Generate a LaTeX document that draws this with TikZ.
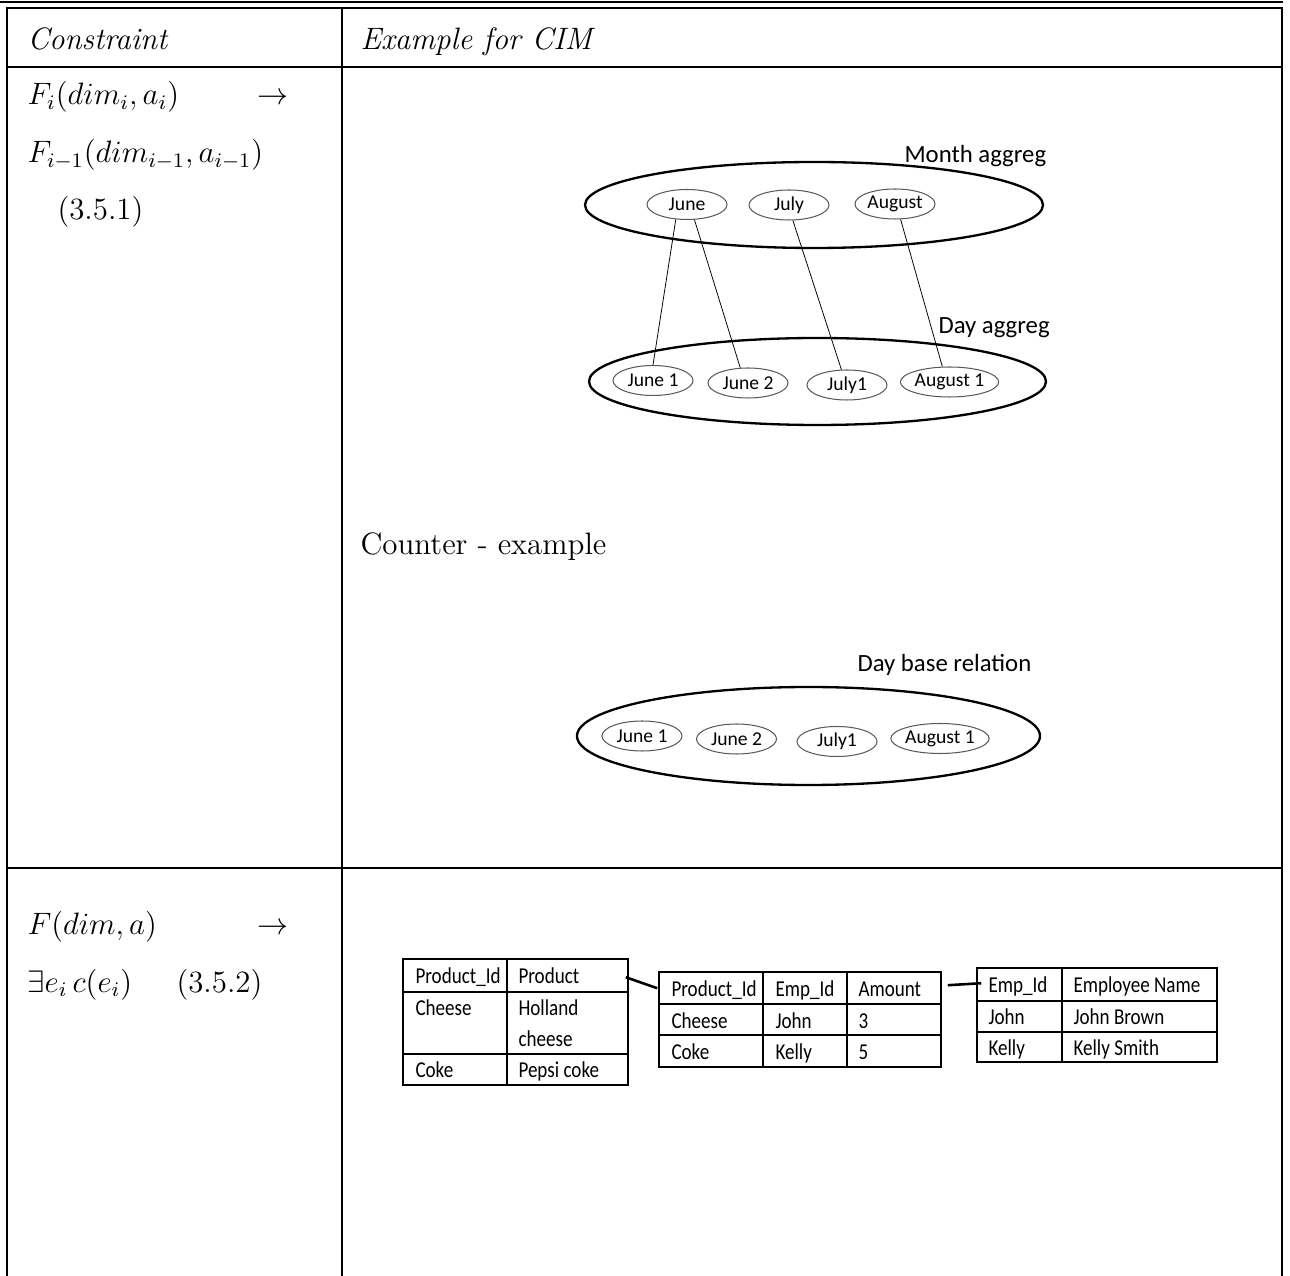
\documentclass[tikz,border=0pt]{standalone}
\usepackage{fontspec}
\newfontfamily\calib{Carlito}
\newfontfamily\calibnarrow[FakeStretch=0.84]{Carlito}
\usetikzlibrary{shapes.geometric,calc}
\newcommand\pxu{0.3876pt}

\begin{document}
\begin{tikzpicture}[x=0.3876pt,y=-0.3876pt,
  rule/.style={line width=0.5pt},
  bigell/.style={ellipse, draw, line width=0.9pt, inner sep=0},
  smallell/.style={ellipse, draw=black!65, line width=0.4pt, inner sep=0,
    minimum width=80*\pxu, minimum height=30*\pxu,
    font=\calib\fontsize{7.6}{8}\selectfont},
  link/.style={line width=0.3pt},
  lbl/.style={anchor=base west, inner sep=0, font=\calib\fontsize{9.6}{11}\selectfont},
  cell/.style={anchor=base west, inner sep=0, font=\calibnarrow\fontsize{8.8}{10}\selectfont},
  tbl/.style={draw, line width=0.6pt, inner sep=0},
  conn/.style={line width=1pt},
  maintext/.style={anchor=base west, inner sep=0, font=\fontsize{12}{14.4}\selectfont}]

\useasboundingbox (0,0) rectangle (1290,1276);

% outer table rules
\draw[line width=0.8pt] (0,2) -- (1283,2);
\draw[rule] (7,1276) -- (7,8) -- (1282,8) -- (1282,1276);
\draw[rule] (342,8) -- (342,1276);
\draw[rule] (7,67) -- (1282,67);
\draw[rule] (7,868) -- (1282,868);

% header
\node[maintext] (hcon) at (27,50) {\itshape Constraint};
\node[maintext] (hex) at (360,50) {\itshape Example for CIM};

% constraint 3.5.1
\node[maintext] (c1a) at (27,105) {$F_i(dim_i, a_i)$};
\node[maintext] (c1arr) at (257,105) {$\rightarrow$};
\node[maintext] (c1b) at (27,163) {$F_{i-1}(dim_{i-1}, a_{i-1})$};
\node[maintext] (c1n) at (57,220) {(3.5.1)};

% constraint 3.5.2
\node[maintext] (c2a) at (27,934) {$F(dim, a)$};
\node[maintext] (c2arr) at (257,934) {$\rightarrow$};
\node[maintext] (c2b) at (27,992) {$\exists e_i\, c(e_i)$};
\node[maintext] (c2n) at (176,992) {(3.5.2)};

% month / day aggregation
\node[bigell, minimum width=458*\pxu, minimum height=86*\pxu] (month) at (814,205) {};
\node[lbl] (monthlbl) at (904,163) {Month aggreg};
\node[smallell] (june) at (687,204.5) {June};
\node[smallell] (july) at (789,205) {July};
\node[smallell] (aug) at (895,204) {August};

\node[bigell, minimum width=457*\pxu, minimum height=87*\pxu] (day) at (817.5,381.5) {};
\node[lbl] (daylbl) at (938,334) {Day aggreg};
\node[smallell] (june1) at (653,380.5) {June 1};
\node[smallell] (june2) at (748,383) {June 2};
\node[smallell] (july1) at (847,385) {July1};
\node[smallell] (aug1) at (949.5,382) {August 1};

\draw[link] (june.233) -- (june1.90);
\draw[link] (june.296) -- (june2.117);
\draw[link] (july.284) -- (july1.110);
\draw[link] (aug.290) -- (aug1.115);

% counter-example
\node[maintext] (ctr) at (360,555) {Counter - example};
\node[bigell, minimum width=463*\pxu, minimum height=98*\pxu] (base) at (808.5,736) {};
\node[lbl] (baselbl) at (857,672) {Day base relation};
\node[smallell] (b1) at (642,736) {June 1};
\node[smallell] (b2) at (736.5,739) {June 2};
\node[smallell] (b3) at (837,741.5) {July1};
\node[smallell] (b4) at (940,738.5) {August 1};

% relational tables
\node[tbl, minimum width=225*\pxu, minimum height=126*\pxu] (tA) at (515.5,1022) {};
\draw[line width=0.6pt] (507,959) -- (507,1085) (403,992) -- (628,992) (403,1054) -- (628,1054);
\node[cell] at (415,983) {Product\_Id};
\node[cell] at (518,983) {Product};
\node[cell] at (415,1015) {Cheese};
\node[cell] at (518,1015) {Holland};
\node[cell] at (518,1046) {cheese};
\node[cell] at (415,1077) {Coke};
\node[cell] at (518,1077) {Pepsi coke};

\node[tbl, minimum width=282*\pxu, minimum height=95*\pxu] (tB) at (800,1019.5) {};
\draw[line width=0.6pt] (763,972) -- (763,1067) (847,972) -- (847,1067)
  (659,1004) -- (941,1004) (659,1035) -- (941,1035);
\node[cell] at (671,996) {Product\_Id};
\node[cell] at (775,996) {Emp\_Id};
\node[cell] at (858,996) {Amount};
\node[cell] at (671,1028) {Cheese};
\node[cell] at (775,1028) {John};
\node[cell] at (858,1028) {3};
\node[cell] at (671,1059) {Coke};
\node[cell] at (775,1059) {Kelly};
\node[cell] at (858,1059) {5};

\node[tbl, minimum width=240*\pxu, minimum height=94*\pxu] (tC) at (1097,1015) {};
\draw[line width=0.6pt] (1062,968) -- (1062,1062) (977,1001) -- (1217,1001) (977,1032) -- (1217,1032);
\node[cell] at (988,992) {Emp\_Id};
\node[cell] at (1073,992) {Employee Name};
\node[cell] at (988,1024) {John};
\node[cell] at (1073,1024) {John Brown};
\node[cell] at (988,1055) {Kelly};
\node[cell] at (1073,1055) {Kelly Smith};

\draw[conn] ($(tA.north east)+(-3,19)$) -- ($(tB.north west)+(-1,17)$);
\draw[conn] ($(tB.north east)+(6,14)$) -- ($(tC.north west)+(5,16)$);
\end{tikzpicture}
\end{document}
